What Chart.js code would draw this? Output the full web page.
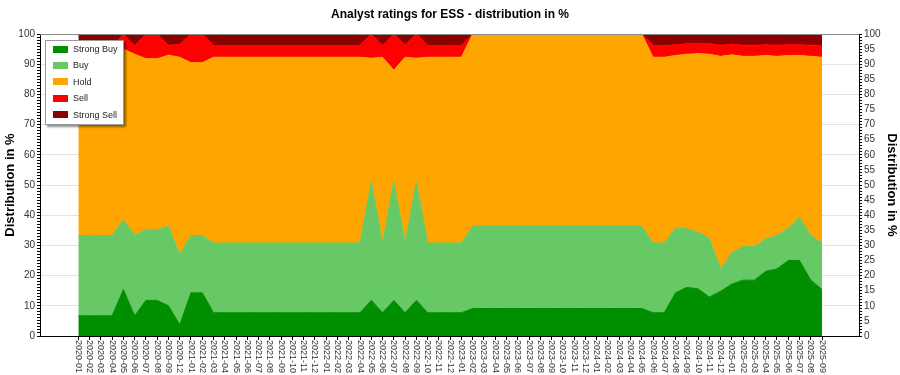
<!DOCTYPE html>
<html>
<head>
<meta charset="utf-8">
<title>Analyst ratings for ESS</title>
<script src="https://cdn.jsdelivr.net/npm/chart.js@4.4.1/dist/chart.umd.min.js"></script>
<style>
  body { margin: 0; background: #fff; }
  #wrap { position: relative; width: 900px; height: 375px; }
  #legend {
    position: absolute; left: 45px; top: 40px; width: 77px; height: 83px;
    background: #fff; border: 1px solid #9a9a9a;
    box-shadow: 2px 2px 2px rgba(0, 0, 0, 0.45);
    font: 9px 'Liberation Sans', Arial, sans-serif; color: #222;
  }
  .item { position: absolute; left: 7px; height: 10px; display: flex; align-items: center; white-space: nowrap; }
  .sw { width: 15px; height: 7px; margin-right: 5px; }
</style>
</head>
<body>
<div id="wrap">
  <canvas id="chart"></canvas>
  <div id="legend"></div>
</div>
<script>
// ===== Data (percent of analysts per rating, per month) =====
const LABELS = [
  '2020-01', '2020-02', '2020-03', '2020-04', '2020-05', '2020-06', '2020-07', '2020-08', '2020-09', '2020-12',
  '2021-01', '2021-02', '2021-03', '2021-04', '2021-05', '2021-06', '2021-07', '2021-08', '2021-09', '2021-10', '2021-11', '2021-12',
  '2022-01', '2022-02', '2022-03', '2022-04', '2022-05', '2022-06', '2022-07', '2022-08', '2022-09', '2022-10', '2022-11', '2022-12',
  '2023-01', '2023-02', '2023-03', '2023-04', '2023-05', '2023-06', '2023-07', '2023-08', '2023-09', '2023-10', '2023-11', '2023-12',
  '2024-01', '2024-02', '2024-03', '2024-04', '2024-05', '2024-06', '2024-07', '2024-08', '2024-09', '2024-10', '2024-11', '2024-12',
  '2025-01', '2025-02', '2025-03', '2025-04', '2025-05', '2025-06', '2025-07', '2025-08', '2025-09'
];

const STRONG_BUY = [
  6.7, 6.7, 6.7, 6.7, 15.4, 6.7, 11.8, 11.8, 10.0, 3.7,
  14.3, 14.3, 7.7, 7.7, 7.7, 7.7, 7.7, 7.7, 7.7, 7.7, 7.7, 7.7,
  7.7, 7.7, 7.7, 7.7, 11.8, 7.7, 11.8, 7.7, 11.8, 7.7, 7.7, 7.7,
  7.7, 9.1, 9.1, 9.1, 9.1, 9.1, 9.1, 9.1, 9.1, 9.1, 9.1, 9.1,
  9.1, 9.1, 9.1, 9.1, 9.1, 7.7, 7.7, 14.3, 16.1, 15.6, 12.9, 14.8,
  17.2, 18.5, 18.5, 21.4, 22.2, 25.0, 25.0, 18.5, 15.4
];
const BUY = [
  26.6, 26.6, 26.6, 26.6, 23.1, 26.6, 23.5, 23.5, 26.3, 23.2,
  19.0, 19.0, 23.1, 23.1, 23.1, 23.1, 23.1, 23.1, 23.1, 23.1, 23.1, 23.1,
  23.1, 23.1, 23.1, 23.1, 39.2, 23.1, 39.2, 23.1, 39.2, 23.1, 23.1, 23.1,
  23.1, 27.3, 27.3, 27.3, 27.3, 27.3, 27.3, 27.3, 27.3, 27.3, 27.3, 27.3,
  27.3, 27.3, 27.3, 27.3, 27.3, 23.1, 23.1, 21.4, 19.4, 18.8, 19.4, 7.4,
  10.4, 11.1, 11.1, 10.7, 11.1, 10.7, 14.3, 14.8, 15.4
];
const HOLD = [
  60.0, 60.0, 60.0, 60.0, 56.5, 60.0, 56.5, 56.5, 56.7, 65.4,
  57.2, 57.2, 61.5, 61.5, 61.5, 61.5, 61.5, 61.5, 61.5, 61.5, 61.5, 61.5,
  61.5, 61.5, 61.5, 61.5, 41.0, 61.5, 37.0, 61.5, 41.0, 61.5, 61.5, 61.5,
  61.5, 63.6, 63.6, 63.6, 63.6, 63.6, 63.6, 63.6, 63.6, 63.6, 63.6, 63.6,
  63.6, 63.6, 63.6, 63.6, 63.6, 61.5, 61.5, 57.2, 57.8, 59.1, 61.0, 70.4,
  65.5, 63.0, 63.0, 60.8, 59.3, 57.2, 53.6, 59.3, 61.5
];
const SELL = [
  2.4, 2.4, 2.4, 2.4, 5.0, 2.7, 8.2, 8.2, 3.3, 4.2,
  9.5, 9.5, 3.9, 3.9, 3.9, 3.9, 3.9, 3.9, 3.9, 3.9, 3.9, 3.9,
  3.9, 3.9, 3.9, 3.9, 8.0, 3.9, 12.0, 3.9, 8.0, 3.9, 3.9, 3.9,
  3.9, 0, 0, 0, 0, 0, 0, 0, 0, 0, 0, 0,
  0, 0, 0, 0, 0, 3.9, 3.9, 3.5, 3.5, 3.4, 3.5, 3.7,
  3.5, 3.7, 3.7, 3.5, 3.7, 3.5, 3.5, 3.7, 3.9
];
const STRONG_SELL = [
  4.3, 4.3, 4.3, 4.3, 0, 4.0, 0, 0, 3.7, 3.5,
  0, 0, 3.8, 3.8, 3.8, 3.8, 3.8, 3.8, 3.8, 3.8, 3.8, 3.8,
  3.8, 3.8, 3.8, 3.8, 0, 3.8, 0, 3.8, 0, 3.8, 3.8, 3.8,
  3.8, 0, 0, 0, 0, 0, 0, 0, 0, 0, 0, 0,
  0, 0, 0, 0, 0, 3.8, 3.8, 3.6, 3.2, 3.1, 3.2, 3.7,
  3.4, 3.7, 3.7, 3.6, 3.7, 3.6, 3.6, 3.7, 3.8
];

const SERIES = [
  { name: 'Strong Buy', values: STRONG_BUY, color: '#008f00' },
  { name: 'Buy', values: BUY, color: '#66c966' },
  { name: 'Hold', values: HOLD, color: '#ffa500' },
  { name: 'Sell', values: SELL, color: '#ff0000' },
  { name: 'Strong Sell', values: STRONG_SELL, color: '#8b0000' },
];

const FONT = "'Liberation Sans', Arial, sans-serif";
Chart.defaults.font.family = FONT;
Chart.defaults.color = '#333';
Chart.defaults.animation = false;

// ===== Legend box (inside the plot, top-left) =====
const legendEl = document.getElementById('legend');
SERIES.forEach((s, i) => {
  const item = document.createElement('div');
  item.className = 'item';
  item.style.top = (3 + i * 16.4) + 'px';
  item.innerHTML = `<span class="sw" style="background:${s.color}"></span>${s.name}`;
  legendEl.appendChild(item);
});

// x tick labels read top-to-bottom, drawn along the library's own tick positions
const verticalXLabels = {
  id: 'verticalXLabels',
  afterDraw(chart) {
    const xs = chart.scales.x;
    const ctx = chart.ctx;
    ctx.save();
    ctx.font = '9px ' + FONT;
    ctx.fillStyle = '#333';
    ctx.textAlign = 'left';
    ctx.textBaseline = 'middle';
    xs.ticks.forEach(t => {
      const px = xs.getPixelForValue(t.value);
      ctx.save();
      ctx.translate(px, xs.top + 4);
      ctx.rotate(Math.PI / 2);
      ctx.fillText(LABELS[t.value], 0, 0);
      ctx.restore();
    });
    ctx.restore();
  }
};

// thin frame line across the top of the plot, over the filled areas
const topFrame = {
  id: 'topFrame',
  afterDatasetsDraw(chart) {
    const { ctx, chartArea } = chart;
    ctx.save();
    ctx.strokeStyle = '#8a8a8a';
    ctx.lineWidth = 1;
    ctx.beginPath();
    ctx.moveTo(chartArea.left, chartArea.top + 0.5);
    ctx.lineTo(chartArea.right, chartArea.top + 0.5);
    ctx.stroke();
    ctx.restore();
  }
};

const percentTicks = () => Array.from({ length: 101 }, (_, v) => ({ value: v }));

new Chart(document.getElementById('chart'), {
  type: 'line',
  data: {
    datasets: SERIES.map((s, i) => ({
      label: s.name,
      data: s.values.map((v, idx) => ({ x: idx, y: v })),
      backgroundColor: s.color,
      borderColor: s.color,
      borderWidth: 1,
      pointRadius: 0,
      tension: 0,
      fill: i === 0 ? 'origin' : '-1',
    })),
  },
  options: {
    responsive: true,
    maintainAspectRatio: false,
    layout: { padding: 0 },
    plugins: {
      legend: { display: false },
      tooltip: { enabled: false },
      title: {
        display: true,
        text: 'Analyst ratings for ESS - distribution in %',
        color: '#000',
        font: { size: 12, weight: 'bold', lineHeight: 1.2 },
        padding: { top: 7, bottom: 12.6 },
      },
    },
    scales: {
      x: {
        type: 'linear',
        min: -3.4,
        max: 69.28,
        afterBuildTicks: ax => { ax.ticks = LABELS.map((_, i) => ({ value: i })); },
        ticks: {
          autoSkip: false, minRotation: 90, maxRotation: 90, padding: 2,
          color: 'rgba(0,0,0,0)', font: { size: 9 },
          callback: v => LABELS[v],
        },
        grid: { drawOnChartArea: false, tickLength: 4, tickColor: '#000' },
        border: { color: '#000' },
        afterFit: s => { s.height = 39; },
      },
      y: {
        stacked: true,
        position: 'left',
        min: 0,
        max: 100,
        afterBuildTicks: ax => { ax.ticks = percentTicks(); },
        ticks: {
          autoSkip: false, padding: 2, font: { size: 10 }, color: '#333',
          callback: v => (v % 10 === 0 ? v : ''),
        },
        grid: {
          color: c => (c.tick && c.tick.value % 10 === 0 ? '#e3e3e3' : 'rgba(0,0,0,0)'),
          tickColor: '#000',
          tickLength: 3,
        },
        border: { color: '#000' },
        title: {
          display: true, text: 'Distribution in %', color: '#000',
          font: { size: 13, weight: 'bold', lineHeight: 1.2 },
          padding: { top: 3, bottom: 0 },
        },
        afterFit: s => { s.width = 40; },
      },
      y2: {
        position: 'right',
        min: 0,
        max: 100,
        afterBuildTicks: ax => { ax.ticks = percentTicks(); },
        ticks: {
          autoSkip: false, padding: 2, font: { size: 10 }, color: '#333',
          callback: v => (v % 5 === 0 ? v : ''),
        },
        grid: { drawOnChartArea: false, tickColor: '#000', tickLength: 3 },
        border: { color: '#000' },
        title: {
          display: true, text: 'Distribution in %', color: '#000',
          font: { size: 13, weight: 'bold', lineHeight: 1.2 },
          padding: { top: 1, bottom: 0 },
        },
        afterFit: s => { s.width = 41; },
      },
    },
  },
  plugins: [verticalXLabels, topFrame],
});
</script>
</body>
</html>
